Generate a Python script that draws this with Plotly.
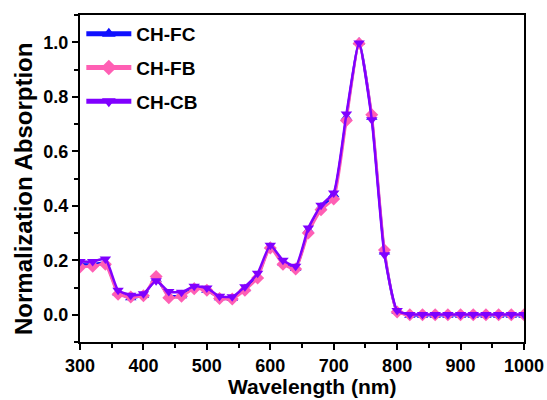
import plotly.graph_objects as go

# Wavelength grid (nm)
wavelength = list(range(300, 1001, 20))

# Normalised absorption spectra
ch_fc = [0.185, 0.185, 0.190, 0.080, 0.062, 0.072, 0.130, 0.070, 0.070, 0.100,
         0.090, 0.062, 0.060, 0.095, 0.140, 0.250, 0.190, 0.170, 0.310, 0.395,
         0.440, 0.725, 1.000, 0.725, 0.230, 0.012, -0.002, -0.002, -0.002, -0.002,
         -0.002, -0.002, -0.002, -0.002, -0.002, -0.002]
ch_fb = [0.175, 0.178, 0.185, 0.075, 0.065, 0.070, 0.140, 0.062, 0.068, 0.095,
         0.090, 0.060, 0.058, 0.090, 0.135, 0.245, 0.185, 0.168, 0.300, 0.385,
         0.425, 0.713, 0.995, 0.734, 0.238, 0.010, 0.000, 0.000, 0.000, 0.000,
         0.000, 0.000, 0.000, 0.000, 0.000, 0.000]
ch_cb = [0.195, 0.195, 0.205, 0.090, 0.072, 0.077, 0.125, 0.085, 0.083, 0.105,
         0.098, 0.068, 0.066, 0.103, 0.152, 0.255, 0.200, 0.178, 0.318, 0.402,
         0.447, 0.737, 0.997, 0.716, 0.220, 0.016, 0.001, 0.001, 0.001, 0.001,
         0.001, 0.001, 0.001, 0.001, 0.001, 0.001]

x_ticks = [300, 400, 500, 600, 700, 800, 900, 1000]
y_ticks = [0.0, 0.2, 0.4, 0.6, 0.8, 1.0]

series = [
    ("CH-FC", ch_fc, "#1010FF", "triangle-up"),
    ("CH-FB", ch_fb, "#FF5FB4", "diamond"),
    ("CH-CB", ch_cb, "#8000FF", "triangle-down"),
]

FAMILY = "Liberation Sans, Arial, sans-serif"

fig = go.Figure()
for name, vals, color, symbol in series:
    fig.add_trace(go.Scatter(
        x=wavelength, y=vals, name=name, legendgroup=name, mode="lines+markers",
        line=dict(color=color, width=2.5, shape="spline", smoothing=0.5),
        marker=dict(symbol=symbol, size=10, color=color),
    ))

tick_font = dict(family=FAMILY, size=18, color="black")

common = dict(
    showline=True, linecolor="black", linewidth=2, mirror=True,
    ticks="outside", ticklen=6, tickwidth=2, tickcolor="black",
    showgrid=False, zeroline=False, tickfont=tick_font, automargin=False,
)

fig.update_xaxes(
    range=[300, 1000], tickvals=x_ticks,
    ticktext=[f"<b>{v}</b>" for v in x_ticks],
    minor=dict(dtick=50, ticks="outside", ticklen=4, tickwidth=2, tickcolor="black"),
    **common,
)
fig.update_yaxes(
    range=[-0.1, 1.1], tickvals=y_ticks,
    ticktext=[f"<b>{v:.1f}</b>" for v in y_ticks],
    minor=dict(dtick=0.1, ticks="outside", ticklen=4, tickwidth=2, tickcolor="black"),
    **common,
)

# Axis titles
fig.add_annotation(text="<b>Wavelength (nm)</b>", xref="paper", yref="paper",
                   x=0.5225, y=-0.176, xanchor="center", yanchor="bottom",
                   showarrow=False, font=dict(family=FAMILY, size=21, color="black"))
fig.add_annotation(text="<b>Normalization Absorption</b>", xref="paper", yref="paper",
                   x=-0.126, y=0.468, xanchor="center", yanchor="middle", textangle=-90,
                   showarrow=False, font=dict(family=FAMILY, size=24, color="black"))

fig.update_layout(
    width=547, height=400,
    margin=dict(l=80, r=23, t=15, b=58),
    plot_bgcolor="white", paper_bgcolor="white",
    legend=dict(x=0.003, y=1.0, xanchor="left", yanchor="top",
                font=dict(family=FAMILY, size=19, color="black", weight="bold"),
                bgcolor="rgba(0,0,0,0)", traceorder="grouped", tracegroupgap=6,
                itemwidth=45, itemsizing="constant"),
)

fig.write_html("out.html")
